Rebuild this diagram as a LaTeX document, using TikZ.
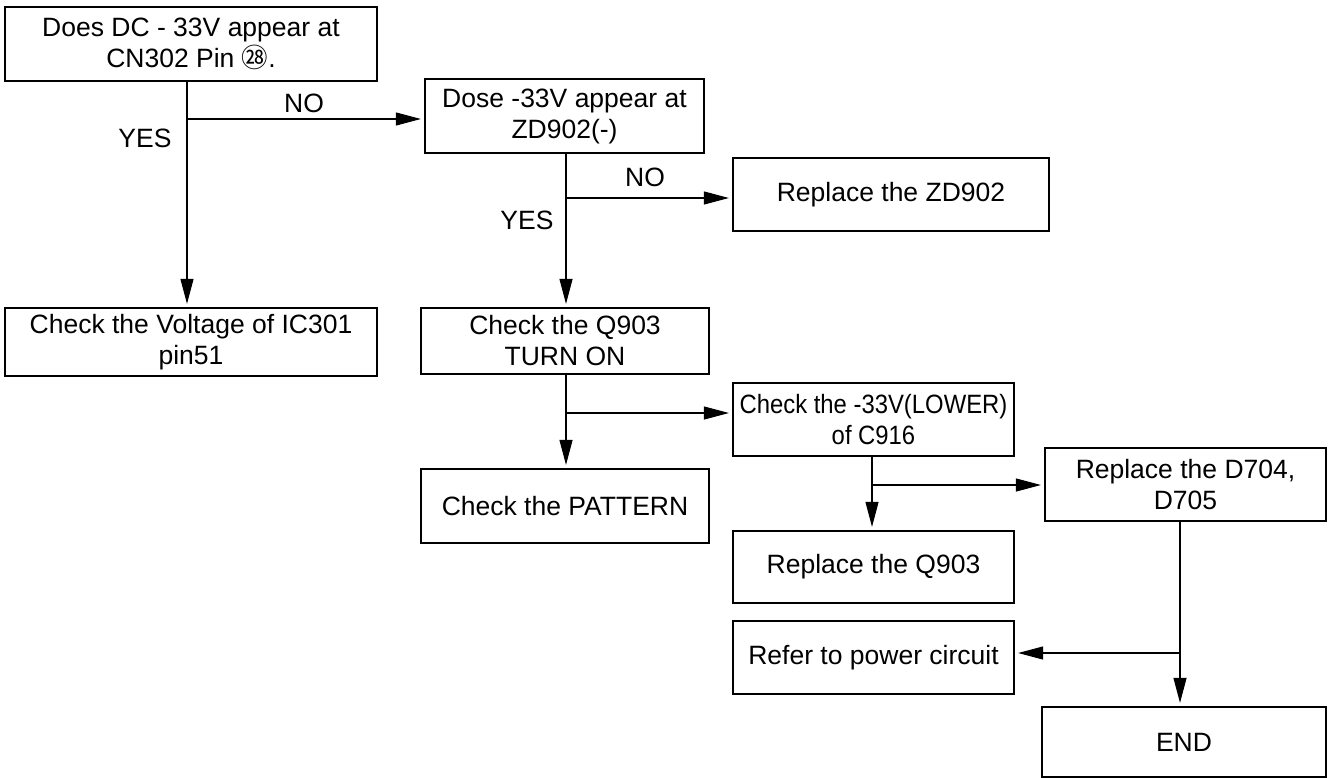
\documentclass[tikz,border=0pt]{standalone}
\usepackage{fontspec}
\setmainfont{Liberation Sans}
\newfontfamily\cjkfont{Noto Sans CJK JP}
\newfontfamily\narrowfont[FakeStretch=0.9]{Liberation Sans}
\usetikzlibrary{arrows.meta,calc}
\begin{document}
\begin{tikzpicture}[x=1pt,y=-1pt,
  box/.style={draw, line width=2.2pt, inner sep=0pt, align=center, font=\fontsize{26.5}{31}\selectfont},
  conn/.style={line width=1.1pt, -{Triangle[length=25pt,width=13pt]}, shorten >=3pt},
  plain/.style={line width=1.1pt},
  lbl/.style={font=\fontsize{26.5}{31}\selectfont, inner sep=0pt}]
\useasboundingbox (0,0) rectangle (1329,778);
% boxes
\node[box, minimum width=372pt, minimum height=74pt] (A) at (191,44) {Does DC - 33V appear at\\CN302 Pin {\cjkfont ㉘}.};
\node[box, minimum width=279pt, minimum height=74pt] (B) at (564.5,116) {Dose -33V appear at\\ZD902(-)};
\node[box, minimum width=372pt, minimum height=68pt] (C) at (191,342) {Check the Voltage of IC301\\pin51};
\node[box, minimum width=288pt, minimum height=66pt] (D) at (565,341) {Check the Q903\\TURN ON};
\node[box, minimum width=316pt, minimum height=73pt] (ZD) at (891,194.5) {Replace the ZD902};
\node[box, minimum width=281pt, minimum height=73pt] (E) at (873.5,419.5) {\narrowfont Check the -33V(LOWER)\\\narrowfont of C916};
\node[box, minimum width=288pt, minimum height=74pt] (P) at (565,506) {Check the PATTERN};
\node[box, minimum width=281pt, minimum height=72pt] (RQ) at (873.5,567) {Replace the Q903};
\node[box, minimum width=281pt, minimum height=73pt] (REF) at (873.5,657.5) {Refer to power circuit};
\node[box, minimum width=281pt, minimum height=73pt] (F) at (1185.5,484.5) {Replace the D704,\\D705};
\node[box, minimum width=284pt, minimum height=70pt] (END) at (1184,742) {END};
% labels
\node[lbl] (no1) at (304,103) {NO};
\node[lbl] (yes1) at (145,138) {YES};
\node[lbl] (no2) at (645,177) {NO};
\node[lbl] (yes2) at (527,220) {YES};
% junctions
\coordinate (j1) at (187,119);
\coordinate (j2) at (566,198);
\coordinate (j3) at (566,413);
\coordinate (j4) at (872,485);
\coordinate (j5) at (1180,653);
% connectors
\draw[conn] ([xshift=-4pt]A.south) -- ([xshift=-4pt]C.north);
\draw[conn] (j1) -- (j1 -| B.west);
\draw[conn] ([xshift=1.5pt]B.south) -- ([xshift=1pt]D.north);
\draw[conn] (j2) -- (j2 -| ZD.west);
\draw[conn] ([xshift=1pt]D.south) -- ([xshift=1pt]P.north);
\draw[conn] (j3) -- (j3 -| E.west);
\draw[conn] ([xshift=-1.5pt]E.south) -- ([xshift=-1.5pt]RQ.north);
\draw[conn] (j4) -- (j4 -| F.west);
\draw[conn] ([xshift=-5.5pt]F.south) -- ([xshift=-4pt]END.north);
\draw[conn] (j5) -- (j5 -| REF.east);
\end{tikzpicture}
\end{document}
